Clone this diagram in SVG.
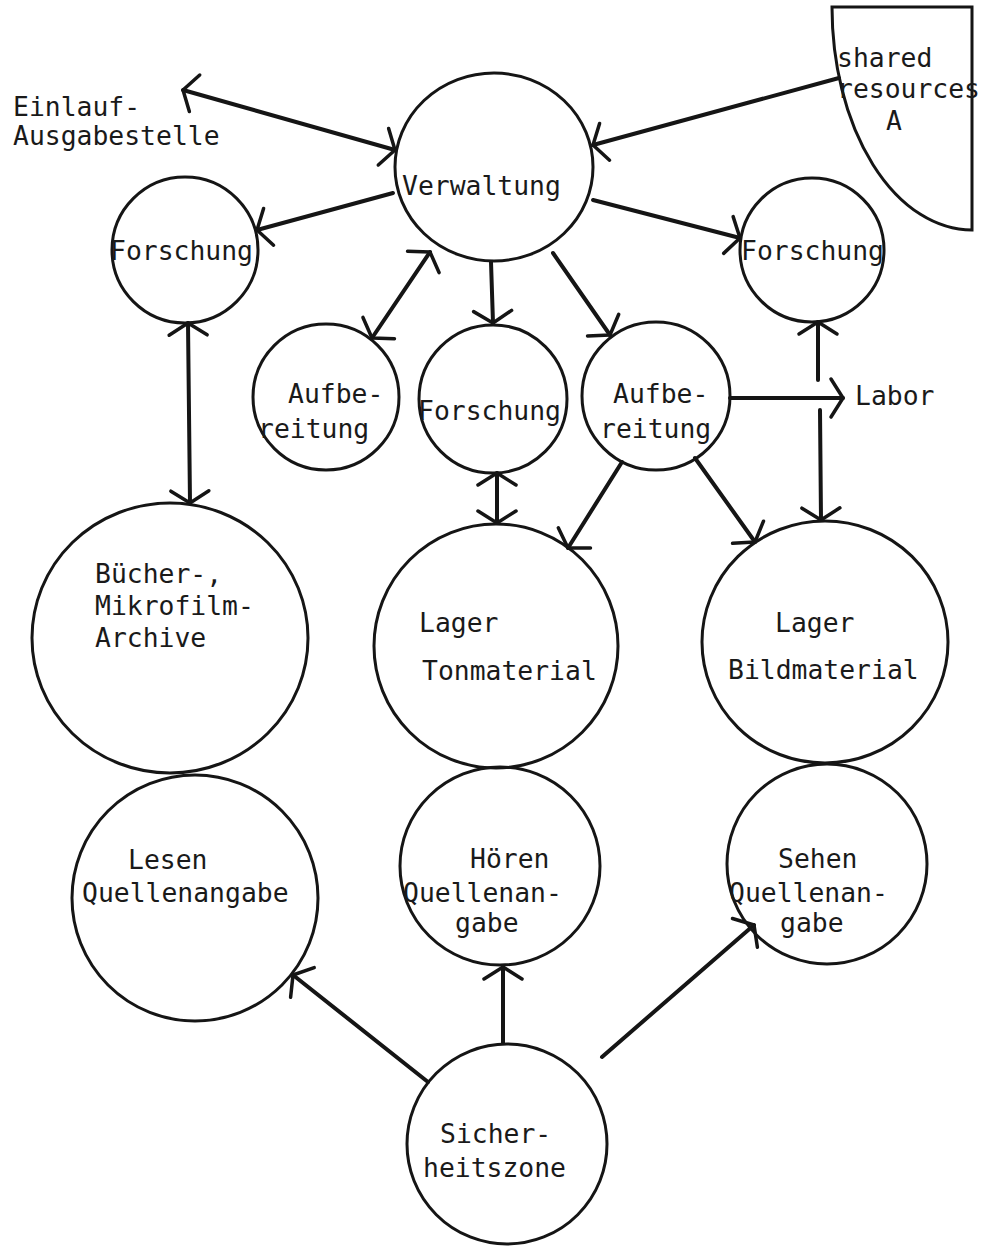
<svg xmlns="http://www.w3.org/2000/svg" width="986" height="1247" viewBox="0 0 986 1247">
  <defs>
    <style>
      .node { fill: none; stroke: #151515; stroke-width: 3; }
      .edge { fill: none; stroke: #151515; stroke-width: 4; stroke-linecap: round; }
      .lbl { font-family: "DejaVu Sans Mono", "Liberation Mono", monospace; font-size: 26.4px; fill: #1a1a1a; }
    </style>
    <!-- open, wide V arrowhead; reversed automatically at line starts -->
    <marker id="head" viewBox="-20 -26 26 52" refX="0" refY="0" markerWidth="26" markerHeight="52" markerUnits="userSpaceOnUse" orient="auto-start-reverse">
      <path d="M-12,-19 L0,0 L-12,19" fill="none" stroke="#151515" stroke-width="3.5" stroke-linecap="round" stroke-linejoin="round"/>
    </marker>
  </defs>
  <rect width="986" height="1247" fill="#ffffff"/>

  <!-- connectors -->
  <g id="connectors">
    <line class="edge" x1="395" y1="150" x2="183" y2="90" marker-start="url(#head)" marker-end="url(#head)"/>
    <line class="edge" x1="839" y1="78" x2="593" y2="145" marker-end="url(#head)"/>
    <line class="edge" x1="393" y1="193" x2="257" y2="230" marker-end="url(#head)"/>
    <line class="edge" x1="593" y1="200" x2="740" y2="238" marker-end="url(#head)"/>
    <line class="edge" x1="430" y1="252" x2="372" y2="338" marker-start="url(#head)" marker-end="url(#head)"/>
    <line class="edge" x1="491" y1="262" x2="493" y2="323" marker-end="url(#head)"/>
    <line class="edge" x1="553" y1="253" x2="610" y2="335" marker-end="url(#head)"/>
    <line class="edge" x1="188" y1="323" x2="190" y2="503" marker-start="url(#head)" marker-end="url(#head)"/>
    <line class="edge" x1="497" y1="473" x2="497" y2="523" marker-start="url(#head)" marker-end="url(#head)"/>
    <line class="edge" x1="622" y1="462" x2="568" y2="548" marker-end="url(#head)"/>
    <line class="edge" x1="695" y1="458" x2="755" y2="542" marker-end="url(#head)"/>
    <line class="edge" x1="730" y1="398" x2="843" y2="398" marker-end="url(#head)"/>
    <line class="edge" x1="818" y1="380" x2="818" y2="322" marker-end="url(#head)"/>
    <line class="edge" x1="820" y1="410" x2="821" y2="520" marker-end="url(#head)"/>
    <line class="edge" x1="428" y1="1082" x2="293" y2="975" marker-end="url(#head)"/>
    <line class="edge" x1="503" y1="1043" x2="503" y2="967" marker-end="url(#head)"/>
    <line class="edge" x1="602" y1="1057" x2="754" y2="925" marker-end="url(#head)"/>
  </g>

  <g id="einlauf">
    <text class="lbl" x="13" y="116">Einlauf-</text>
    <text class="lbl" x="13" y="145">Ausgabestelle</text>
  </g>

  <g id="shared-resources">
    <path class="node" d="M832,7 L972,7 L972,230 A140,223 0 0,1 832,7 Z"/>
    <text class="lbl" x="837" y="67">shared</text>
    <text class="lbl" x="837" y="98">resources</text>
    <text class="lbl" x="886" y="130">A</text>
  </g>

  <g id="verwaltung">
    <ellipse class="node" cx="494" cy="167" rx="99" ry="94"/>
    <text class="lbl" x="402" y="195">Verwaltung</text>
  </g>

  <g id="forschung-links">
    <circle class="node" cx="185" cy="250" r="73"/>
    <text class="lbl" x="110" y="260">Forschung</text>
  </g>

  <g id="forschung-rechts">
    <circle class="node" cx="812" cy="250" r="72"/>
    <text class="lbl" x="741" y="260">Forschung</text>
  </g>

  <g id="aufbereitung-links">
    <circle class="node" cx="326" cy="397" r="73"/>
    <text class="lbl" x="288" y="403">Aufbe-</text>
    <text class="lbl" x="258" y="438">reitung</text>
  </g>

  <g id="forschung-mitte">
    <circle class="node" cx="493" cy="399" r="74"/>
    <text class="lbl" x="418" y="420">Forschung</text>
  </g>

  <g id="aufbereitung-rechts">
    <circle class="node" cx="656" cy="396" r="74"/>
    <text class="lbl" x="613" y="403">Aufbe-</text>
    <text class="lbl" x="600" y="438">reitung</text>
  </g>

  <g id="labor">
    <text class="lbl" x="855" y="405">Labor</text>
  </g>

  <g id="archive">
    <ellipse class="node" cx="170" cy="638" rx="138" ry="135"/>
    <text class="lbl" x="95" y="583">Bücher-,</text>
    <text class="lbl" x="95" y="615">Mikrofilm-</text>
    <text class="lbl" x="95" y="647">Archive</text>
  </g>

  <g id="lager-ton">
    <circle class="node" cx="496" cy="646" r="122"/>
    <text class="lbl" x="419" y="632">Lager</text>
    <text class="lbl" x="422" y="680">Tonmaterial</text>
  </g>

  <g id="lager-bild">
    <ellipse class="node" cx="825" cy="642" rx="123" ry="121"/>
    <text class="lbl" x="775" y="632">Lager</text>
    <text class="lbl" x="728" y="679">Bildmaterial</text>
  </g>

  <g id="lesen">
    <circle class="node" cx="195" cy="898" r="123"/>
    <text class="lbl" x="128" y="869">Lesen</text>
    <text class="lbl" x="82" y="902">Quellenangabe</text>
  </g>

  <g id="hoeren">
    <ellipse class="node" cx="500" cy="866" rx="100" ry="99"/>
    <text class="lbl" x="470" y="868">Hören</text>
    <text class="lbl" x="403" y="902">Quellenan-</text>
    <text class="lbl" x="455" y="932">gabe</text>
  </g>

  <g id="sehen">
    <circle class="node" cx="827" cy="864" r="100"/>
    <text class="lbl" x="778" y="868">Sehen</text>
    <text class="lbl" x="729" y="902">Quellenan-</text>
    <text class="lbl" x="780" y="932">gabe</text>
  </g>

  <g id="sicherheitszone">
    <circle class="node" cx="507" cy="1144" r="100"/>
    <text class="lbl" x="440" y="1143">Sicher-</text>
    <text class="lbl" x="423" y="1177">heitszone</text>
  </g>
</svg>
